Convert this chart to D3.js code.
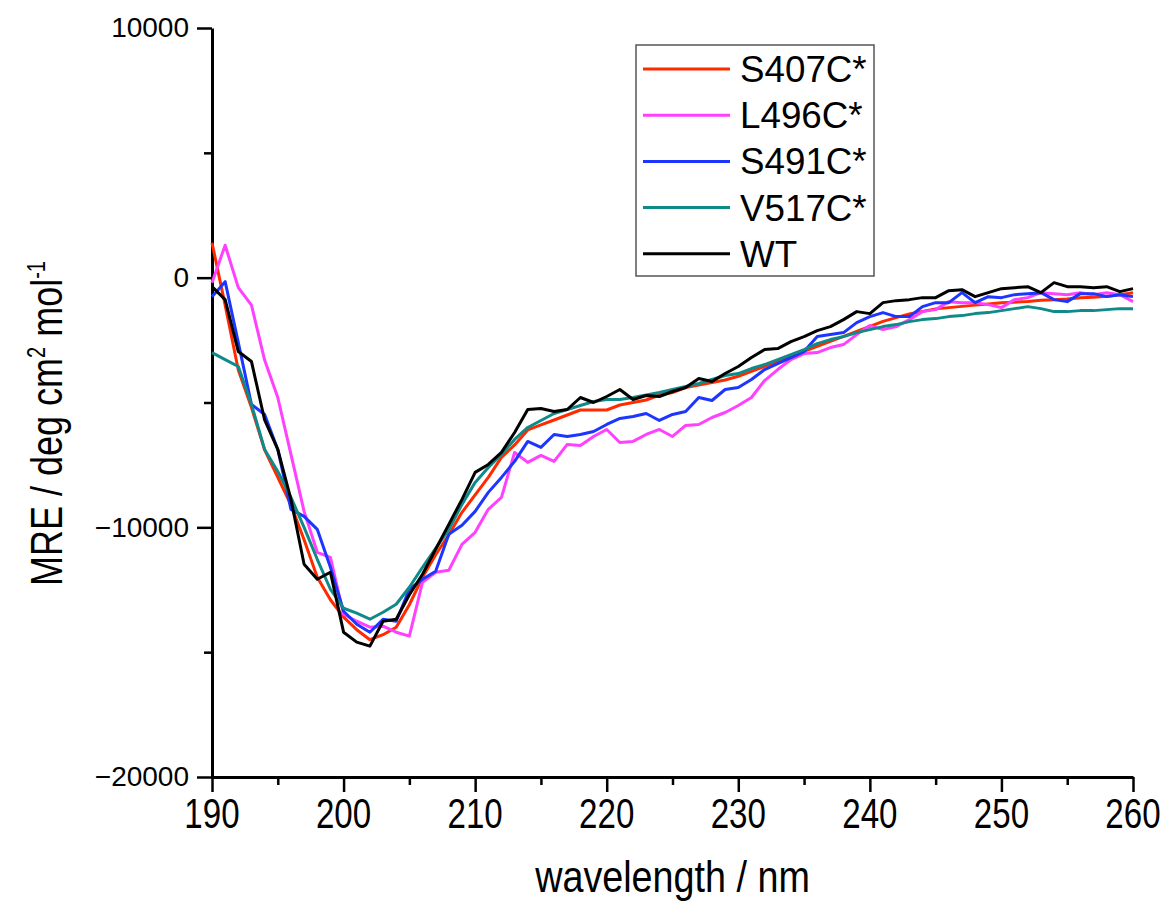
<!DOCTYPE html>
<html>
<head>
<meta charset="utf-8">
<script src="https://cdn.jsdelivr.net/npm/d3@7"></script>
<style>
  body { margin: 0; background: #fff; }
  text { font-family: "Liberation Sans", Arial, sans-serif; fill: #000; }
</style>
</head>
<body>
<div id="chart"></div>
<script>
// wavelength grid, 1 nm steps
var wavelengths = d3.range(190, 261);

// MRE values, one per nm from 190 to 260
var s407c = [1400, -1100, -3700, -5200, -6900, -8000, -9100, -10500, -12000, -12900,
  -13600, -14100, -14500, -14300, -14000, -13100, -12000, -11100, -10300, -9400,
  -8700, -8000, -7200, -6700, -6100, -5900, -5700, -5500, -5300, -5300,
  -5300, -5100, -5000, -4900, -4700, -4600, -4400, -4300, -4200, -4100,
  -3950, -3750, -3550, -3350, -3150, -2950, -2750, -2550, -2350, -2150,
  -1950, -1750, -1600, -1450, -1350, -1250, -1200, -1150, -1100, -1050,
  -1000, -980, -950, -900, -880, -850, -800, -780, -740, -680, -600];

var l496c = [-200, 1300, -400, -1100, -3300, -4800, -7080, -9360, -11000, -11200,
  -13480, -13760, -14000, -13960, -14200, -14360, -12200, -11800, -11720, -10680,
  -10200, -9280, -8800, -7000, -7400, -7120, -7360, -6680, -6720, -6360,
  -6080, -6600, -6560, -6280, -6080, -6360, -5920, -5880, -5600, -5400,
  -5120, -4800, -4120, -3680, -3280, -3040, -3000, -2800, -2680, -2280,
  -1920, -2080, -1960, -1680, -1360, -1280, -960, -1000, -1000, -1080,
  -1200, -880, -800, -600, -640, -680, -600, -680, -600, -680, -960];

var s491c = [-760, -160, -2600, -5080, -5480, -6880, -9280, -9560, -10080, -11600,
  -13360, -13880, -14200, -13680, -13760, -12480, -12080, -11760, -10280, -9920,
  -9360, -8600, -8000, -7360, -6560, -6800, -6280, -6360, -6280, -6160,
  -5880, -5640, -5560, -5440, -5720, -5480, -5360, -4800, -4920, -4480,
  -4400, -4080, -3680, -3440, -3200, -2960, -2360, -2280, -2200, -1800,
  -1560, -1400, -1560, -1560, -1160, -1000, -1000, -600, -1000, -760,
  -800, -680, -640, -600, -880, -960, -640, -640, -760, -680, -760];

var v517c = [-3000, -3280, -3560, -5080, -6880, -7760, -8800, -10000, -11280, -12480,
  -13240, -13440, -13680, -13400, -13080, -12400, -11600, -10840, -10080, -9080,
  -8200, -7600, -7080, -6480, -6000, -5720, -5440, -5280, -5120, -4960,
  -4880, -4880, -4800, -4700, -4600, -4480, -4360, -4240, -4080, -3920,
  -3840, -3640, -3480, -3280, -3080, -2880, -2640, -2480, -2360, -2200,
  -2080, -1960, -1880, -1760, -1680, -1640, -1560, -1520, -1440, -1400,
  -1320, -1240, -1160, -1240, -1360, -1360, -1320, -1320, -1280, -1240, -1240];

var wt = [-360, -880, -2960, -3360, -5700, -6880, -8880, -11480, -12080, -11800,
  -14200, -14600, -14760, -13760, -13680, -12700, -11880, -10880, -9880, -8880,
  -7800, -7480, -7000, -6200, -5280, -5240, -5360, -5280, -4800, -5000,
  -4760, -4480, -4880, -4720, -4760, -4560, -4400, -4040, -4160, -3840,
  -3560, -3200, -2880, -2840, -2560, -2360, -2120, -1960, -1680, -1360,
  -1440, -1000, -920, -880, -800, -800, -520, -480, -760, -600,
  -440, -400, -360, -600, -200, -360, -360, -400, -360, -560, -440];

var seriesNames = ["S407C*", "L496C*", "S491C*", "V517C*", "WT"];
var seriesValues = [s407c, l496c, s491c, v517c, wt];
var seriesColors = ["#ff2a00", "#ff40ff", "#1c35ff", "#0e8a88", "#000000"];

var xTicks = [190, 200, 210, 220, 230, 240, 250, 260];
var yTicks = [10000, 0, -10000, -20000];

// set the dimensions and margins of the graph
var margin = {top: 28, right: 36, bottom: 126, left: 212},
    width = 1169 - margin.left - margin.right,
    height = 903 - margin.top - margin.bottom;

var svg = d3.select("#chart").append("svg")
    .attr("width", 1169)
    .attr("height", 903)
    .append("g")
    .attr("transform", "translate(" + margin.left + "," + margin.top + ")");

// set the ranges
var x = d3.scaleLinear().domain([190, 260]).range([0, width]);
var y = d3.scaleLinear().domain([-20000, 10000]).range([height, 0]);

// minor ticks first, then the major ones on top
svg.append("g")
    .attr("transform", "translate(0," + height + ")")
    .call(d3.axisBottom(x).tickValues(d3.range(195, 260, 10)).tickSize(8).tickFormat(""))
    .call(function(g) { g.select(".domain").remove(); })
    .selectAll("line").attr("stroke-width", 2.5);

svg.append("g")
    .call(d3.axisLeft(y).tickValues([5000, -5000, -15000]).tickSize(8).tickFormat(""))
    .call(function(g) { g.select(".domain").remove(); })
    .selectAll("line").attr("stroke-width", 2.5);

// add the x Axis (labels drawn below, stretched like the original)
var xAxis = svg.append("g")
    .attr("transform", "translate(0," + height + ")")
    .call(d3.axisBottom(x).tickValues(xTicks).tickSize(15).tickFormat("").tickSizeOuter(0));
xAxis.select(".domain").attr("stroke-width", 3);
xAxis.selectAll("line").attr("stroke-width", 2.5);

svg.append("g").selectAll("text")
    .data(xTicks)
    .enter().append("text")
    .attr("transform", function(d) { return "translate(" + x(d) + "," + (height + 51) + ") scale(0.92,1.2)"; })
    .attr("text-anchor", "middle")
    .style("font-size", "36px")
    .text(function(d) { return d; });

// add the y Axis
var yAxis = svg.append("g")
    .call(d3.axisLeft(y).tickValues(yTicks).tickSize(15).tickPadding(8)
        .tickFormat(d3.format("d")).tickSizeOuter(0));
yAxis.select(".domain").attr("stroke-width", 3);
yAxis.selectAll("line").attr("stroke-width", 2.5);
yAxis.selectAll("text").style("font-size", "28px").attr("font-family", null);

// the curves
var line = d3.line()
    .x(function(d) { return x(d[0]); })
    .y(function(d) { return y(d[1]); });

seriesValues.forEach(function(vals, i) {
    svg.append("path")
        .datum(wavelengths.map(function(w, j) { return [w, vals[j]]; }))
        .attr("fill", "none")
        .attr("stroke", seriesColors[i])
        .attr("stroke-width", 3)
        .attr("stroke-linejoin", "round")
        .attr("d", line);
});

// X-Axis Label
svg.append("text")
    .attr("transform", "translate(" + (width / 2) + "," + (height + 115) + ") scale(1.02,1.2)")
    .attr("text-anchor", "middle")
    .style("font-size", "37px")
    .text("wavelength / nm");

// Y-Axis Label
var yl = svg.append("text")
    .attr("transform", "translate(" + (-150) + "," + (height / 2 + 21) + ") rotate(-90) scale(1,1.25)")
    .attr("text-anchor", "middle")
    .style("font-size", "36px");
yl.append("tspan").text("MRE / deg cm");
yl.append("tspan").attr("dy", -14).style("font-size", "20px").text("2");
yl.append("tspan").attr("dy", 14).text(" mol");
yl.append("tspan").attr("dy", -14).style("font-size", "20px").text("-1");

// legend
var legend = svg.append("g").attr("transform", "translate(" + (636 - margin.left) + "," + (45 - margin.top) + ")");
legend.append("rect")
    .attr("width", 238).attr("height", 231)
    .attr("fill", "#fff").attr("stroke", "#555").attr("stroke-width", 1.5);

seriesNames.forEach(function(name, i) {
    var row = legend.append("g").attr("transform", "translate(0," + (24 + i * 46.2) + ")");
    row.append("line")
        .attr("x1", 7).attr("x2", 94)
        .attr("stroke", seriesColors[i]).attr("stroke-width", 3);
    row.append("text")
        .attr("transform", "translate(104,13) scale(1.05,1.05)")
        .style("font-size", "35px")
        .text(name);
});
</script>
</body>
</html>
